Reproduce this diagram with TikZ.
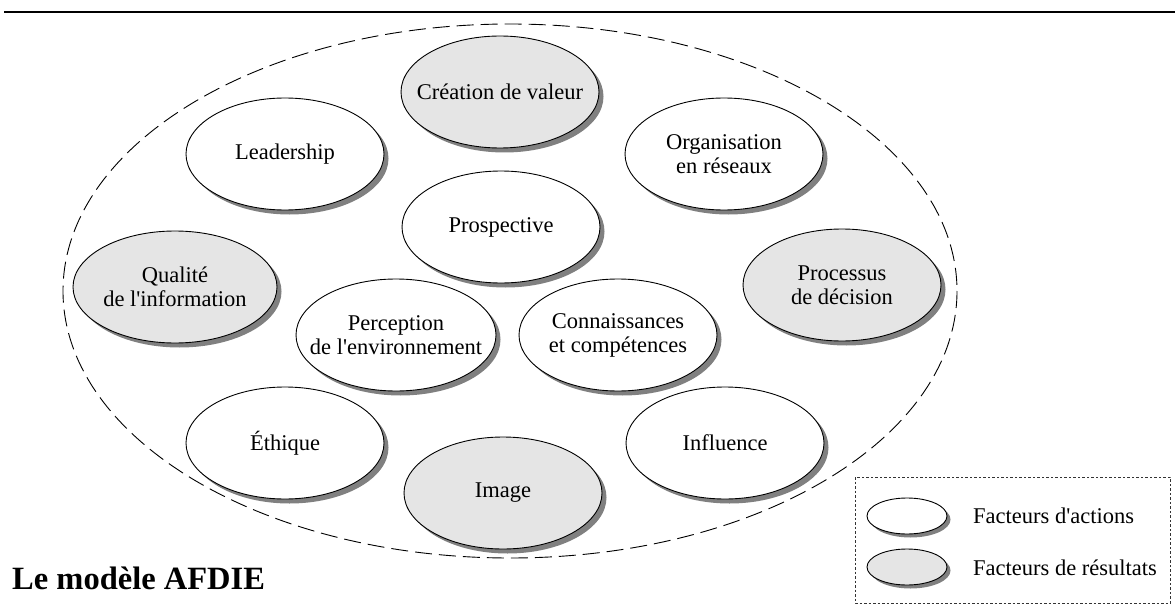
\documentclass[tikz,border=0pt]{standalone}
\usepackage{fontspec}
\setmainfont{Liberation Serif}
\usetikzlibrary{shapes.geometric,shadows}
\definecolor{resfill}{gray}{0.90}
\definecolor{shadowgray}{gray}{0.50}
\tikzset{
  factor/.style={ellipse, draw=black, line width=0.9pt, fill=white,
    minimum width=198pt, minimum height=112pt, inner sep=-40pt, align=center,
    font=\fontsize{22.5}{24}\selectfont,
    drop shadow={shadow xshift=4.5pt, shadow yshift=-4.5pt, fill=shadowgray, opacity=1}},
  action/.style={factor},
  result/.style={factor, fill=resfill},
  legell/.style={ellipse, draw=black, line width=0.9pt, minimum width=80pt, minimum height=36pt, inner sep=0pt,
    drop shadow={shadow xshift=3.5pt, shadow yshift=-3.5pt, fill=shadowgray, opacity=1}},
  legtext/.style={anchor=west, font=\fontsize{22.5}{24}\selectfont, inner sep=0pt}
}
\begin{document}
\begin{tikzpicture}[x=1pt,y=-1pt]
\useasboundingbox (0,0) rectangle (1175,607);
% top rule
\coordinate (ruleL) at (4,12);
\coordinate (ruleR) at (1175,12);
\draw[line width=1.4pt] (ruleL) -- (ruleR);
% enclosing dashed ellipse
\draw[line width=0.9pt, dash pattern=on 17pt off 7pt] (510,291) ellipse [x radius=447, y radius=267];
% factors
\node[result] (creation) at (500,92) {Création de valeur};
\node[action] (leadership) at (285,154) {Leadership};
\node[action] (organisation) at (724,154) {Organisation\\en réseaux};
\node[action] (prospective) at (501,227) {Prospective};
\node[result, minimum width=204pt] (qualite) at (175,287) {Qualité\\de l\textquotesingle information};
\node[result] (processus) at (842,285) {Processus\\de décision};
\node[action, minimum width=200pt] (perception) at (396,335) {Perception\\de l\textquotesingle environnement};
\node[action] (connaissances) at (618,335) {Connaissances\\et compétences};
\node[action] (ethique) at (285,443) {Éthique};
\node[action] (influence) at (725,443) {Influence};
\node[result] (image) at (503,493) {Image};
% title
\node[anchor=west, inner sep=0pt, font=\fontsize{32.5}{34}\selectfont\bfseries] (title) at (12,578) {Le modèle AFDIE};
% legend
\draw[line width=0.7pt, dash pattern=on 2.5pt off 2pt, draw=black!80] (855,477) rectangle (1170,603);
\node[legell, fill=white] (legA) at (907,516) {};
\node[legell, fill=resfill] (legR) at (907,567) {};
\node[legtext] (legAt) at (973,516) {Facteurs d\textquotesingle actions};
\node[legtext] (legRt) at (973,568) {Facteurs de résultats};
\end{tikzpicture}
\end{document}
